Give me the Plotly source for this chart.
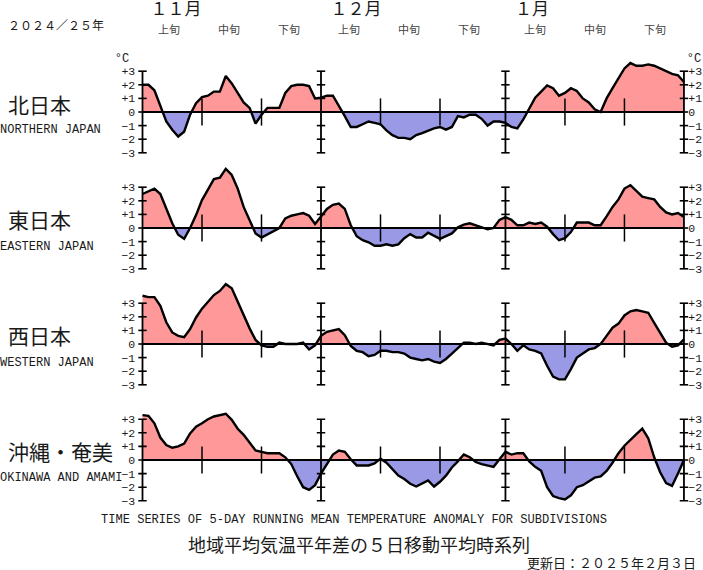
import plotly.graph_objects as go

W, H = 703, 570
days = list(range(92))
north = [2.0,2.0,1.6,0.5,-0.7,-1.3,-1.8,-1.45,-0.2,0.65,1.1,1.2,1.5,1.5,2.65,2.1,1.4,0.7,0.3,-0.85,-0.2,0.3,0.3,0.3,1.4,1.9,2.0,2.0,1.9,1.0,1.05,1.2,1.2,0.5,-0.3,-1.1,
         -1.1,-0.9,-0.7,-0.8,-0.9,-1.35,-1.7,-1.9,-1.9,-2.0,-1.7,-1.55,-1.35,-1.2,-1.1,-1.3,-1.1,-0.3,-0.4,-0.2,-0.2,-0.5,-1.0,-0.7,-0.7,-0.8,-1.1,-1.2,-0.55,0.3,1.05,1.5,1.95,1.75,1.2,1.4,1.75,1.55,1.0,0.7,0.2,0.0,1.0,1.75,2.5,3.2,3.6,3.4,3.4,3.5,3.4,3.2,3.0,2.8,2.7,2.2]
east = [2.5,2.7,2.9,2.5,1.45,0.35,-0.5,-0.8,0.0,0.95,2.05,2.8,3.6,3.7,4.35,3.9,2.9,1.55,0.6,-0.4,-0.7,-0.45,-0.2,0.0,0.7,0.9,1.0,1.1,0.9,0.3,0.85,1.4,1.7,1.8,1.4,0.2,
        -0.6,-0.9,-1.05,-1.3,-1.3,-1.2,-1.3,-1.2,-0.75,-0.45,-0.7,-0.7,-0.35,-0.55,-0.8,-0.6,-0.4,0.05,0.25,0.35,0.2,0.1,-0.1,0.0,0.6,0.8,0.6,0.2,0.2,0.4,0.3,0.4,0.1,-0.45,-0.9,-0.75,-0.3,0.4,0.4,0.4,0.2,0.2,0.85,1.55,2.1,2.9,3.15,2.7,2.3,2.2,2.1,1.55,1.15,1.0,1.1,0.8]
west = [3.55,3.45,3.45,2.8,1.6,0.85,0.6,0.5,1.1,1.95,2.6,3.1,3.6,3.9,4.4,4.1,3.1,2.15,1.15,0.3,-0.1,-0.2,-0.2,0.1,0.0,0.0,0.0,0.1,-0.4,-0.1,0.6,0.9,1.0,1.1,0.65,-0.15,
        -0.5,-0.6,-0.9,-0.8,-0.5,-0.5,-0.6,-0.6,-0.7,-1.0,-1.1,-1.2,-1.1,-1.3,-1.4,-1.1,-0.7,-0.3,0.1,0.1,0.0,0.1,0.0,-0.1,0.3,0.4,0.0,-0.5,-0.1,-0.4,-0.5,-0.7,-1.6,-2.4,-2.6,-2.6,-1.85,-1.0,-0.7,-0.4,-0.3,0.0,0.6,1.2,1.5,2.1,2.4,2.5,2.4,2.3,1.55,0.8,0.1,-0.2,-0.1,0.35]
okinawa = [3.3,3.25,2.7,1.65,1.1,0.9,1.0,1.2,1.95,2.45,2.7,3.0,3.2,3.3,3.4,2.95,2.3,1.85,1.3,0.7,0.6,0.5,0.5,0.5,0.2,-0.3,-1.2,-2.0,-2.2,-1.85,-1.0,-0.25,0.4,0.7,0.6,0.05,
           -0.4,-0.4,-0.4,-0.25,0.1,-0.2,-0.65,-1.15,-1.4,-1.75,-1.95,-1.75,-1.5,-1.95,-1.6,-1.15,-0.55,-0.1,0.4,0.2,-0.15,-0.3,-0.4,-0.5,0.05,0.6,0.4,0.5,0.5,-0.1,-0.5,-0.8,-2.0,-2.65,-2.8,-2.9,-2.6,-2.0,-1.85,-1.6,-1.3,-1.2,-0.8,-0.2,0.5,1.05,1.5,1.9,2.3,1.6,0.2,-0.9,-1.7,-1.9,-1.0,0.0]
panels = [north, east, west, okinawa]
names_ja = ["北日本", "東日本", "西日本", "沖縄・奄美"]
names_en = ["NORTHERN JAPAN", "EASTERN JAPAN", "WESTERN JAPAN", "OKINAWA AND AMAMI"]
levels = [-3, -2, -1, 0, 1, 2, 3]
level_labels = ["−3", "−2", "−1", "0", "+1", "+2", "+3"]
major_days = [0, 30, 61]
end_day = 91
minor_days = [10, 20, 40, 50, 71, 81]
months = ["\uff11\uff11月", "\uff11\uff12月", "\uff11月"]
decades = ["上旬", "中旬", "下旬"] * 3
year_label = "\uff12\uff10\uff12\uff14\uff0f\uff12\uff15年"
title_en = "TIME SERIES OF 5-DAY RUNNING MEAN TEMPERATURE ANOMALY FOR SUBDIVISIONS"
title_ja = "地域平均気温平年差の\uff15日移動平均時系列"
updated = "更新日\uff1a\uff12\uff10\uff12\uff15年\uff12月\uff13日"

# geometry of the page
X0, PXDAY = 142.5, 5.95
ZERO_PX = [112, 228, 344, 460]
PXUNIT = 13.6
TOP = [4.2, 4.7, 4.7, 3.8]
BOTTOM = -3.3

RED, BLUE = "#FF9999", "#9999E6"
MONO = "Liberation Mono"
CJK = "Noto Sans CJK JP"
INK = "#1a1a1a"


def split(xs, ys, sign):
    ox, oy = [], []
    for i, (x, y) in enumerate(zip(xs, ys)):
        if i:
            a, b = ys[i - 1], y
            if a * b < 0:
                ox.append(xs[i - 1] + (x - xs[i - 1]) * a / (a - b))
                oy.append(0)
        ox.append(x)
        oy.append(max(y * sign, 0) * sign)
    return ox, oy


fig = go.Figure()
layout = dict(
    width=W, height=H, margin=dict(l=0, r=0, t=0, b=0, pad=0, autoexpand=False), autosize=False,
    paper_bgcolor="white", plot_bgcolor="rgba(0,0,0,0)", showlegend=False,
    xaxis=dict(domain=[0, 1], range=[(0 - X0) / PXDAY, (W - X0) / PXDAY], visible=False, fixedrange=True),
    xaxis2=dict(domain=[0, 1], range=[0, W], visible=False, fixedrange=True, overlaying="x", anchor="y9"),
    yaxis9=dict(domain=[0, 1], range=[H, 0], visible=False, fixedrange=True, anchor="x2"),
)


def tick_axis(pos, side, dom, rng, overlay=None):
    d = dict(domain=dom, range=rng, anchor="free", position=pos / W, side=side,
             tickvals=levels, ticktext=level_labels, showgrid=False, zeroline=False, showline=False,
             ticks="outside", ticklen=5 if side == "left" else 1, tickcolor="rgba(0,0,0,0)", tickwidth=1,
             tickfont=dict(family=MONO, size=11.5, color=INK), fixedrange=True)
    if overlay:
        d["overlaying"] = overlay
    return d


for i, vals in enumerate(panels):
    ya = "y" if i == 0 else f"y{2 * i + 1}"
    yb = f"y{2 * i + 2}"
    top_px = ZERO_PX[i] - TOP[i] * PXUNIT
    bot_px = ZERO_PX[i] - BOTTOM * PXUNIT
    dom = [1 - bot_px / H, 1 - top_px / H]
    rng = [BOTTOM, TOP[i]]
    layout["yaxis" if i == 0 else f"yaxis{2 * i + 1}"] = tick_axis(X0, "left", dom, rng)
    layout[f"yaxis{2 * i + 2}"] = tick_axis(X0 + end_day * PXDAY, "right", dom, rng, overlay=ya)

    for sign, col in ((1, RED), (-1, BLUE)):
        ox, oy = split(days, vals, sign)
        fig.add_trace(go.Scatter(x=ox, y=oy, yaxis=ya, mode="none", fill="tozeroy", fillcolor=col, hoverinfo="skip"))
    for d in minor_days:
        fig.add_trace(go.Scatter(x=[d, d], y=[-1, 1], yaxis=ya, mode="lines",
                                 line=dict(color="black", width=1.5), hoverinfo="skip"))
    for d in major_days + [end_day]:
        fig.add_trace(go.Scatter(x=[d] * len(levels), y=levels, yaxis=yb if d == end_day else ya, mode="lines+markers",
                                 line=dict(color="black", width=1.8),
                                 marker=dict(symbol="line-ew", size=6, line=dict(color="black", width=1.6)),
                                 hoverinfo="skip"))
    fig.add_trace(go.Scatter(x=[days[0], days[-1]], y=[0, 0], yaxis=ya, mode="lines",
                             line=dict(color="black", width=1.8), hoverinfo="skip"))
    fig.add_trace(go.Scatter(x=days, y=vals, yaxis=ya, mode="lines",
                             line=dict(color="black", width=2.4), hoverinfo="skip"))


def text(s, px, py, size, family=CJK, anchor="middle right", color=INK):
    fig.add_trace(go.Scatter(x=[px], y=[py], xaxis="x2", yaxis="y9", mode="text", text=[s], textposition=anchor,
                             textfont=dict(family=family, size=size, color=color), cliponaxis=False,
                             hoverinfo="skip"))


text(year_label, 8, 27, 12)
for s, cx in zip(months, [176, 356, 532]):
    text(s, cx, 11, 17, anchor="middle center")
for s, cx in zip(decades, [169, 229, 289, 349, 409, 469, 535, 595, 655]):
    text(s, cx, 31, 11, anchor="middle center", color="#444444")
text("°C", 122, 59, 12, family=MONO, anchor="middle center")
text("°C", 694, 59, 12, family=MONO, anchor="middle center")
for ja, en, yj, ye in zip(names_ja, names_en, [108, 223, 339, 455], [130, 247, 363, 478]):
    text(ja, 8, yj, 21)
    text(en, 0, ye, 12, family=MONO)
text(title_en, 101, 520, 12.05, family=MONO)
text(title_ja, 188, 547, 18)
text(updated, 527, 565, 13)

fig.update_layout(**layout)
fig.write_html("out.html", config={"displayModeBar": False},
               post_script="document.body.style.margin='0';document.body.style.overflow='hidden';")
